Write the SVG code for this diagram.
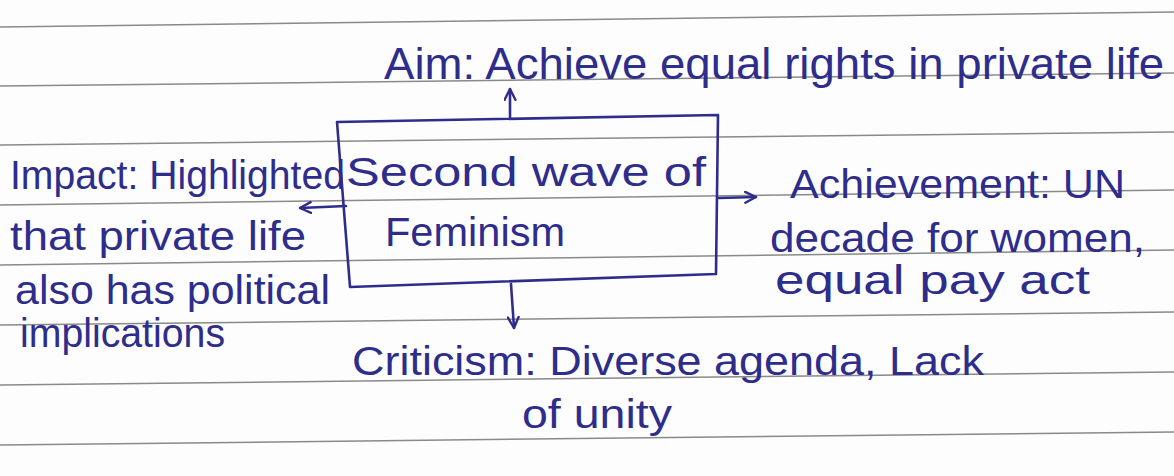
<svg xmlns="http://www.w3.org/2000/svg" width="1174" height="476" viewBox="0 0 1174 476">
<defs>
<style>
.paper{fill:#fdfdfd}
.rule{stroke:#8a8a8a;stroke-width:1.5;fill:none}
.ink{stroke:#2e2d8c;stroke-width:2.6;fill:none;stroke-linecap:round;stroke-linejoin:round}
.t{font-family:"Liberation Sans","DejaVu Sans",sans-serif;font-size:40px;fill:#2e2d8c}
.big{font-size:44px}
</style>
<marker id="arr" viewBox="0 0 12 12" refX="11" refY="6" markerWidth="5" markerHeight="5" orient="auto" markerUnits="strokeWidth">
<path d="M1,1 L11,6 L1,11" fill="none" stroke="#2e2d8c" stroke-width="2.2" stroke-linecap="round" stroke-linejoin="round"/>
</marker>
</defs>
<rect class="paper" x="0" y="0" width="1174" height="476"/>
<g id="rules">
<line class="rule" x1="0" y1="27" x2="1174" y2="12"/>
<line class="rule" x1="0" y1="86" x2="1174" y2="73"/>
<line class="rule" x1="0" y1="145" x2="1174" y2="132"/>
<line class="rule" x1="0" y1="205" x2="1174" y2="190"/>
<line class="rule" x1="0" y1="265" x2="1174" y2="250"/>
<line class="rule" x1="0" y1="325" x2="1174" y2="312"/>
<line class="rule" x1="0" y1="385" x2="1174" y2="372"/>
<line class="rule" x1="0" y1="445" x2="1174" y2="432"/>
</g>
<g id="connectors">
<path class="ink" d="M510,117 L510,89" marker-end="url(#arr)"/>
<path class="ink" d="M346,206 L300,208" marker-end="url(#arr)"/>
<path class="ink" d="M719,198 L756,197" marker-end="url(#arr)"/>
<path class="ink" d="M511,284 L514,328" marker-end="url(#arr)"/>
</g>
<g id="center">
<path class="ink" d="M337,122 L718,115 L716,274 L350,287 Z"/>
<text class="t" x="346" y="186" textLength="360" lengthAdjust="spacingAndGlyphs">Second wave of</text>
<text class="t" x="385" y="246" textLength="180" lengthAdjust="spacingAndGlyphs">Feminism</text>
</g>
<g id="aim">
<text class="t big" x="384" y="79" textLength="780" lengthAdjust="spacingAndGlyphs">Aim: Achieve equal rights in private life</text>
</g>
<g id="impact">
<text class="t" x="10" y="189" textLength="335" lengthAdjust="spacingAndGlyphs">Impact: Highlighted</text>
<text class="t" x="10" y="250" textLength="296" lengthAdjust="spacingAndGlyphs">that private life</text>
<text class="t" x="15" y="304" textLength="315" lengthAdjust="spacingAndGlyphs">also has political</text>
<text class="t" x="20" y="347" textLength="205" lengthAdjust="spacingAndGlyphs">implications</text>
</g>
<g id="achievement">
<text class="t" x="790" y="198" textLength="335" lengthAdjust="spacingAndGlyphs">Achievement: UN</text>
<text class="t" x="770" y="252" textLength="375" lengthAdjust="spacingAndGlyphs">decade for women,</text>
<text class="t" x="775" y="294" textLength="315" lengthAdjust="spacingAndGlyphs">equal pay act</text>
</g>
<g id="criticism">
<text class="t" x="352" y="375" textLength="632" lengthAdjust="spacingAndGlyphs">Criticism: Diverse agenda, Lack</text>
<text class="t" x="522" y="428" textLength="150" lengthAdjust="spacingAndGlyphs">of unity</text>
</g>
</svg>
